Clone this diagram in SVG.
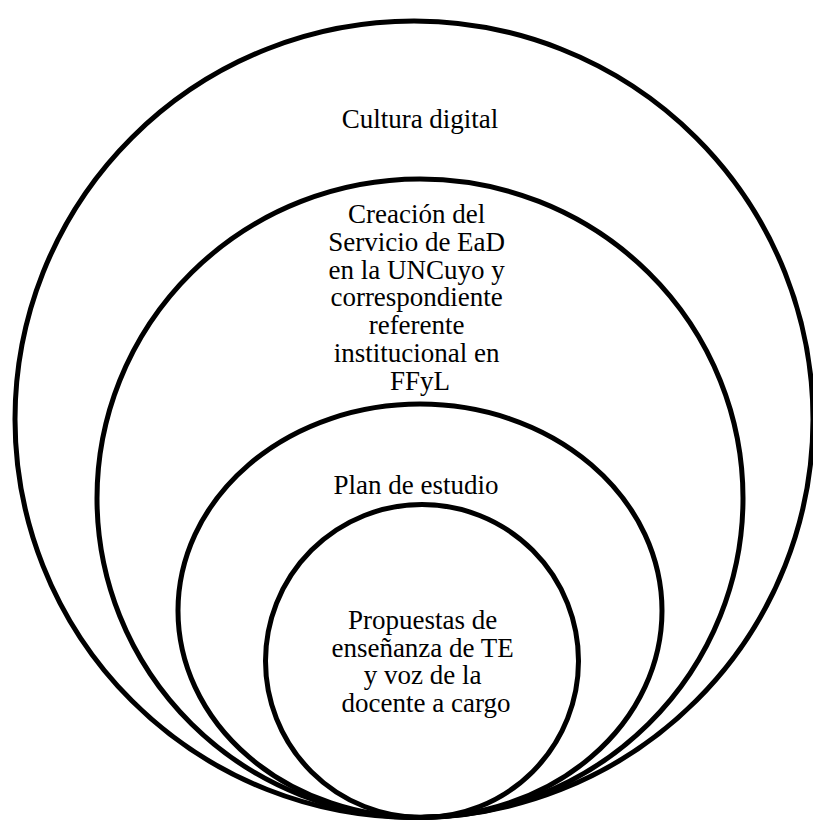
<svg xmlns="http://www.w3.org/2000/svg" width="813" height="821" viewBox="0 0 813 821">
  <style>
    .ring { fill: none; stroke: #000; stroke-width: 5; }
    .lbl { font-family: "Liberation Serif", "Times New Roman", serif; font-size: 27px; fill: #000; text-anchor: middle; }
  </style>
  <rect x="0" y="0" width="813" height="821" fill="#fff"/>

  <!-- Nested levels, all touching at the bottom -->
  <g id="cultura-digital">
    <ellipse class="ring" cx="414" cy="419.25" rx="399" ry="398.25"/>
    <text class="lbl" x="420" y="128">Cultura digital</text>
  </g>

  <g id="servicio-ead">
    <ellipse class="ring" cx="420" cy="498.25" rx="323" ry="319.25"/>
    <text class="lbl">
      <tspan x="420" y="223">Creación del</tspan>
      <tspan x="420" y="250.8">Servicio de EaD</tspan>
      <tspan x="420" y="278.6">en la UNCuyo y</tspan>
      <tspan x="420" y="306.4">correspondiente</tspan>
      <tspan x="420" y="334.2">referente</tspan>
      <tspan x="420" y="362">institucional en</tspan>
      <tspan x="420" y="389.8">FFyL</tspan>
    </text>
  </g>

  <g id="plan-estudio">
    <ellipse class="ring" cx="420" cy="610.75" rx="242" ry="206.75"/>
    <text class="lbl" x="416" y="494">Plan de estudio</text>
  </g>

  <g id="propuestas">
    <circle class="ring" cx="422" cy="661" r="156.5"/>
    <text class="lbl">
      <tspan x="426" y="629">Propuestas de</tspan>
      <tspan x="426" y="656.7">enseñanza de TE</tspan>
      <tspan x="426" y="684.4">y voz de la</tspan>
      <tspan x="426" y="712">docente a cargo</tspan>
    </text>
  </g>

  <g id="connectors"></g>
</svg>
